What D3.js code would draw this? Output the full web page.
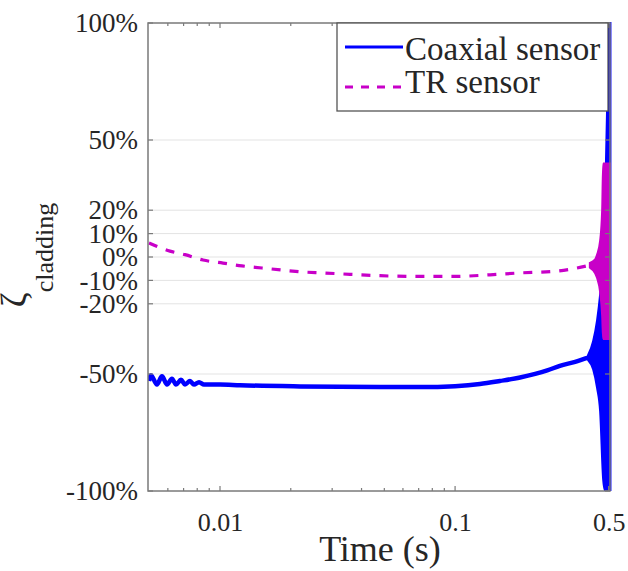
<!DOCTYPE html>
<html>
<head>
<meta charset="utf-8">
<script src="https://cdn.jsdelivr.net/npm/d3@7/dist/d3.min.js"></script>
<style>
  body { margin: 0; background: #fff; }
  svg { display: block; }
  text { font-family: "Liberation Serif", "Times New Roman", serif; fill: #262626; }
</style>
</head>
<body>
<div id="chart"></div>
<script>
// values: time (s) and zeta_cladding (%)
const coaxTime  = [0.004988, 0.005085, 0.005393, 0.005665, 0.005950, 0.006247, 0.006499, 0.006824, 0.007097, 0.007453, 0.007750, 0.008142, 0.008549, 0.01, 0.01217, 0.0219, 0.03236, 0.04795, 0.07105, 0.1, 0.1275, 0.155, 0.189, 0.2466, 0.279, 0.324, 0.3677]
const coaxValue = [-53, -50.5, -54.5, -51, -54.5, -52, -54.5, -52.5, -54.5, -53, -54.5, -53.5, -54.5, -54.5, -54.8, -55.3, -55.5, -55.6, -55.6, -55.2, -54.3, -53, -51.5, -48.5, -46.5, -44.8, -43]

const trTime  = [0.004988, 0.006124, 0.007097, 0.008466, 0.0103, 0.0124, 0.01509, 0.01836, 0.02255, 0.02744, 0.03574, 0.04795, 0.07105, 0.1, 0.1409, 0.1894, 0.2714, 0.3301, 0.3743]
const trValue = [6, 2.5, 1, -1.3, -2.6, -3.8, -4.7, -5.6, -6.4, -6.8, -7.4, -8.0, -8.3, -8.3, -7.6, -6.8, -6, -4.7, -3.5]

// near the end both signals ring fast, only the envelope can be read
const coaxEnvTime = [0.3677, 0.3865, 0.4019, 0.414, 0.4264, 0.4349, 0.4435, 0.45, 0.458]
const coaxEnvHigh = [-42, -36, -27, -16, 0, 25, 65, 100, 100]
const coaxEnvLow  = [-44, -48, -56, -66, -95, -100, -100, -100, -100]

const trEnvTime = [0.3743, 0.3944, 0.4019, 0.414, 0.4223, 0.4264, 0.456]
const trEnvHigh = [-2.5, -1, 1, 7, 20, 40, 40]
const trEnvLow  = [-4.5, -7, -9, -15, -25, -35, -35]

const yTicks = [-100, -50, -20, -10, 0, 10, 20, 50, 100]
const xTicks = [0.01, 0.1, 0.45]
const xTickLabels = ["0.01", "0.1", "0.5"]
const xMinorTicks = [0.006, 0.007, 0.008, 0.009, 0.02, 0.03, 0.04, 0.05, 0.06, 0.07, 0.08, 0.09]
const seriesNames = ["Coaxial sensor", "TR sensor"]

const blue = "#0000ff", magenta = "#c800c8", axisGrey = "#7a7a7a"

const width = 628, height = 571
const margin = {top: 23, right: 18, bottom: 80, left: 148}
const plotW = width - margin.left - margin.right,
  plotH = height - margin.top - margin.bottom

const svg = d3.select("#chart").append("svg")
  .attr("width", width)
  .attr("height", height)

const g = svg.append("g")
  .attr("transform", `translate(${margin.left},${margin.top})`)

const x = d3.scaleLog()
  .domain([0.00494, 0.456])
  .range([0, plotW])

const y = d3.scaleLinear()
  .domain([-100, 100])
  .range([plotH, 0])

g.append("clipPath").attr("id", "clip")
  .append("rect").attr("x", 0).attr("y", -2).attr("width", plotW + 3).attr("height", plotH + 2)

// grid
g.selectAll(".grid")
  .data(yTicks.filter(d => d > -100 && d < 100))
  .join("line")
  .attr("x1", 0).attr("x2", plotW)
  .attr("y1", d => y(d)).attr("y2", d => y(d))
  .attr("stroke", "#e3e3e3").attr("stroke-width", 1)

// series
const plot = g.append("g").attr("clip-path", "url(#clip)")

const coax = coaxTime.map((t, i) => [t, coaxValue[i]])
const tr = trTime.map((t, i) => [t, trValue[i]])
const coaxEnv = coaxEnvTime.map((t, i) => [t, coaxEnvLow[i], coaxEnvHigh[i]])
const trEnv = trEnvTime.map((t, i) => [t, trEnvLow[i], trEnvHigh[i]])

const line = d3.line().x(d => x(d[0])).y(d => y(d[1])).curve(d3.curveMonotoneX)
const area = d3.area().x(d => x(d[0])).y0(d => y(d[1])).y1(d => y(d[2])).curve(d3.curveMonotoneX)

plot.append("path").datum(coaxEnv)
  .attr("d", area).attr("fill", blue).attr("stroke", blue).attr("stroke-width", 2)
plot.append("path").datum(coax)
  .attr("d", line).attr("fill", "none").attr("stroke", blue).attr("stroke-width", 4.5)

plot.append("path").datum(trEnv)
  .attr("d", area).attr("fill", magenta).attr("stroke", magenta).attr("stroke-width", 2)
plot.append("path").datum(tr)
  .attr("d", line).attr("fill", "none").attr("stroke", magenta).attr("stroke-width", 3.2)
  .attr("stroke-dasharray", "9,9")

// axes box
g.append("rect")
  .attr("width", plotW).attr("height", plotH)
  .attr("fill", "none").attr("stroke", axisGrey).attr("stroke-width", 1.5)

const tickLen = 5, minorLen = 3
const bottomAxis = d3.axisBottom(x).tickValues(xTicks).tickSize(0).tickPadding(22)
  .tickFormat((d, i) => xTickLabels[i])
g.append("g").attr("transform", `translate(0,${plotH})`).call(bottomAxis)
  .call(a => a.select(".domain").remove())
  .selectAll("text").attr("font-size", 26).attr("font-family", "Liberation Serif").attr("fill", "#262626")

const leftAxis = d3.axisLeft(y).tickValues(yTicks).tickSize(0).tickPadding(10)
  .tickFormat(d => d + "%")
g.append("g").call(leftAxis)
  .call(a => a.select(".domain").remove())
  .selectAll("text").attr("font-size", 27).attr("font-family", "Liberation Serif").attr("fill", "#262626")

// inward ticks on all four sides
const ticks = g.append("g").attr("stroke", axisGrey).attr("stroke-width", 1.2)
xTicks.concat(xMinorTicks).forEach(t => {
  const len = xTicks.includes(t) ? tickLen : minorLen
  ticks.append("line").attr("x1", x(t)).attr("x2", x(t)).attr("y1", plotH).attr("y2", plotH - len)
  ticks.append("line").attr("x1", x(t)).attr("x2", x(t)).attr("y1", 0).attr("y2", len)
})
yTicks.forEach(v => {
  ticks.append("line").attr("x1", 0).attr("x2", tickLen).attr("y1", y(v)).attr("y2", y(v))
  ticks.append("line").attr("x1", plotW).attr("x2", plotW - tickLen).attr("y1", y(v)).attr("y2", y(v))
})

// axis titles
svg.append("text")
  .attr("x", 380).attr("y", 561)
  .attr("text-anchor", "middle").attr("font-size", 36)
  .text("Time (s)")

const ylab = svg.append("text")
  .attr("transform", "translate(26,255) rotate(-90)")
  .attr("text-anchor", "middle")
ylab.append("tspan").attr("font-size", 36).text("ζ")
ylab.append("tspan").attr("font-size", 26).attr("dy", 27).text("cladding")

// legend
const leg = svg.append("g").attr("transform", "translate(337,23)")
leg.append("rect").attr("width", 271).attr("height", 88)
  .attr("fill", "#fff").attr("stroke", "#555").attr("stroke-width", 1.3)
const legRows = [
  {name: seriesNames[0], color: blue, dash: null, ly: 24, ty: 37},
  {name: seriesNames[1], color: magenta, dash: "8,8", ly: 64, ty: 70}
]
legRows.forEach(r => {
  leg.append("line").attr("x1", 8).attr("x2", 66).attr("y1", r.ly).attr("y2", r.ly)
    .attr("stroke", r.color).attr("stroke-width", 3).attr("stroke-dasharray", r.dash)
  leg.append("text").attr("x", 68).attr("y", r.ty).attr("font-size", 33).text(r.name)
})
</script>
</body>
</html>
